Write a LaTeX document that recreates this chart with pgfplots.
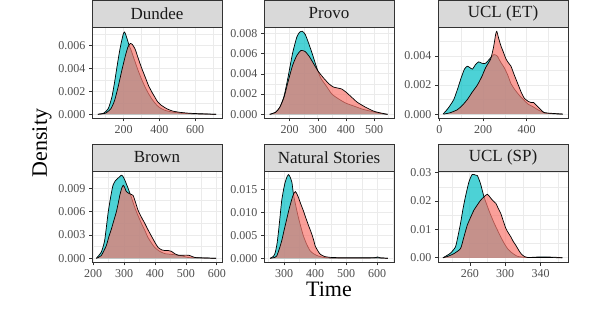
\documentclass[border=0pt]{standalone}
\usepackage{fontspec}
\setmainfont{Liberation Serif}
\usepackage{pgfplots}
\pgfplotsset{compat=1.18}

\definecolor{cyanc}{HTML}{00BFC4}
\definecolor{salmonc}{HTML}{F8766D}
\definecolor{gray20}{HTML}{333333}
\definecolor{gray30}{HTML}{4D4D4D}
\definecolor{gray85}{HTML}{D9D9D9}
\definecolor{gray92}{HTML}{EBEBEB}
\definecolor{gray10}{HTML}{1A1A1A}

\pgfplotsset{
  facet/.style={
    scale only axis, width=130pt, height=91.5pt,
    axis line style={draw=gray20, line width=0.6pt},
    grid=both,
    major grid style={draw=gray92, line width=0.75pt},
    minor grid style={draw=gray92, line width=0.4pt},
    tick align=outside, major tick length=3pt, minor tick length=0pt,
    major tick style={draw=gray20, line width=0.6pt},
    xtick pos=left, ytick pos=left,
    ticklabel style={font=\fontsize{12}{12}\selectfont, text=gray30},
    scaled ticks=false,
    every axis title shift=0pt,
    title style={at={(0.5,1)}, anchor=south, fill=gray85, draw=gray20,
      line width=0.6pt, minimum width=130pt, minimum height=27pt,
      inner sep=0pt, outer sep=0pt, font=\fontsize{17}{17}\selectfont, text=gray10},
  },
  cyanfill/.style={fill=cyanc, fill opacity=0.7, draw=black, line width=0.7pt, smooth, tension=0.35},
  salmonfill/.style={fill=salmonc, fill opacity=0.7, draw=black, line width=0.7pt, smooth, tension=0.35},
}

\begin{document}
\begin{tikzpicture}
\path[use as bounding box] (0pt,0pt) rectangle (602pt,332pt);

% Dundee
\begin{axis}[facet, at={(92pt,213.5pt)}, anchor=south west, title={Dundee},
  xmin=24, xmax=750, ymin=-0.00037, ymax=0.00764,
  xtick={200,400,600}, xticklabels={200,400,600}, minor xtick={100,300,500,700},
  ytick={0,0.002,0.004,0.006}, yticklabels={0.000,0.002,0.004,0.006},
  minor ytick={0.001,0.003,0.005,0.007}]
\addplot[cyanfill] coordinates {
(57,0) (90,0.0001) (115,0.0005) (135,0.0015) (150,0.0028) (165,0.0043) (180,0.0057)
(192,0.0066) (200,0.0071) (206,0.0072) (214,0.0069) (222,0.0065) (232,0.0060) (245,0.0055)
(260,0.0048) (280,0.0039) (300,0.0031) (320,0.0024) (340,0.0018) (360,0.0013) (380,0.0009)
(400,0.0006) (430,0.00035) (470,0.0002) (520,0.0001) (600,0.00004) (717,0)};
\addplot[salmonfill] coordinates {
(57,0) (100,0.0001) (130,0.0005) (150,0.0012) (170,0.0024) (190,0.0038) (210,0.0051)
(225,0.0059) (238,0.0062) (250,0.0061) (265,0.0057) (280,0.0050) (300,0.0041) (320,0.0033)
(340,0.0025) (360,0.0019) (375,0.0015) (390,0.0011) (410,0.0008) (440,0.0005) (470,0.0003)
(510,0.00018) (560,0.0001) (620,0.00005) (717,0)};
\end{axis}

% Provo
\begin{axis}[facet, at={(264pt,213.5pt)}, anchor=south west, title={Provo},
  xmin=108.6, xmax=571, ymin=-0.00041, ymax=0.00862,
  xtick={200,300,400,500}, xticklabels={200,300,400,500}, minor xtick={150,250,350,450,550},
  ytick={0,0.002,0.004,0.006,0.008}, yticklabels={0.000,0.002,0.004,0.006,0.008},
  minor ytick={0.001,0.003,0.005,0.007}]
\addplot[cyanfill] coordinates {
(129,0) (150,0.0002) (165,0.0007) (180,0.0018) (195,0.0038) (210,0.0060) (225,0.0076)
(235,0.0081) (245,0.0082) (255,0.0079) (265,0.0072) (280,0.0060) (295,0.0047) (310,0.0036)
(330,0.0028) (350,0.0020) (375,0.0015) (400,0.0011) (430,0.0008) (460,0.0005) (490,0.0003)
(520,0.0001) (548,0)};
\addplot[salmonfill] coordinates {
(129,0) (150,0.0002) (165,0.0007) (180,0.0017) (195,0.0033) (210,0.0048) (225,0.0058)
(240,0.0063) (255,0.0062) (270,0.0057) (285,0.0050) (300,0.0043) (320,0.0036) (340,0.0030)
(355,0.0027) (370,0.0026) (385,0.0025) (400,0.0022) (420,0.0017) (440,0.0012) (470,0.0007)
(500,0.0003) (530,0.0001) (548,0)};
\end{axis}

% UCL (ET)
\begin{axis}[facet, at={(438pt,213.5pt)}, anchor=south west, title={UCL (ET)},
  xmin=-6, xmax=589, ymin=-0.0003, ymax=0.006,
  xtick={0,200,400}, xticklabels={0,200,400}, minor xtick={100,300,500},
  ytick={0,0.002,0.004}, yticklabels={0.000,0.002,0.004},
  minor ytick={0.001,0.003,0.005}]
\addplot[cyanfill] coordinates {
(17,0) (40,0.0004) (66,0.001) (85,0.0018) (100,0.0025) (115,0.0031) (128,0.0033)
(140,0.0032) (152,0.0031) (165,0.0034) (180,0.0036) (195,0.0035) (212,0.0035) (230,0.0038)
(250,0.0041) (265,0.0040) (280,0.0036) (297,0.0032) (313,0.0027) (328,0.0021) (345,0.0017)
(366,0.0013) (385,0.0010) (405,0.0007) (430,0.0005) (451,0.0003) (480,0.0001) (520,0.00003) (566,0)};
\addplot[salmonfill] coordinates {
(20,0) (50,0.0001) (82,0.0003) (105,0.0006) (128,0.001) (150,0.0015) (174,0.0020)
(195,0.0026) (212,0.0032) (235,0.0038) (248,0.0046) (258,0.0055) (263,0.0057) (272,0.0052)
(282,0.0047) (295,0.0042) (305,0.0038) (318,0.0035) (328,0.0033) (343,0.0027) (359,0.0021)
(375,0.0015) (389,0.0011) (405,0.0009) (420,0.0008) (432,0.0008) (445,0.0006) (458,0.0004)
(481,0.0001) (520,0.00005) (566,0)};
\end{axis}

% Brown
\begin{axis}[facet, at={(92pt,69.5pt)}, anchor=south west, title={Brown},
  xmin=196, xmax=617, ymin=-0.00054, ymax=0.01124,
  xtick={200,300,400,500,600}, xticklabels={200,300,400,500,600}, minor xtick={250,350,450,550},
  ytick={0,0.003,0.006,0.009}, yticklabels={0.000,0.003,0.006,0.009},
  minor ytick={0.0015,0.0045,0.0075,0.0105}]
\addplot[cyanfill] coordinates {
(210,0) (226,0.0008) (237,0.0023) (248,0.0058) (256,0.0078) (264,0.0094) (272,0.0100)
(280,0.0103) (291,0.0107) (297,0.0105) (302,0.0101) (313,0.0090) (324,0.0078) (334,0.0066)
(345,0.0055) (356,0.0045) (367,0.0036) (377,0.0027) (388,0.0020) (399,0.0014) (415,0.0009)
(432,0.0006) (455,0.0005) (475,0.0004) (490,0.0003) (507,0.0001) (550,0.00005) (598,0)};
\addplot[salmonfill] coordinates {
(210,0) (226,0.00035) (242,0.0016) (250,0.0027) (259,0.0038) (267,0.0049) (275,0.0060)
(281,0.0071) (286,0.0081) (292,0.0090) (297,0.0094) (302,0.0091) (307,0.0086) (318,0.0083)
(329,0.0081) (337,0.0072) (345,0.0062) (356,0.0053) (367,0.0045) (377,0.0037) (388,0.0029)
(399,0.0021) (410,0.0014) (421,0.0011) (432,0.0010) (443,0.0010) (453,0.0009) (464,0.0006)
(475,0.0004) (490,0.0004) (509,0.0004) (530,0.0001) (560,0.00005) (598,0)};
\end{axis}

% Natural Stories
\begin{axis}[facet, at={(264pt,69.5pt)}, anchor=south west, title={Natural Stories},
  xmin=235, xmax=654, ymin=-0.00092, ymax=0.0191,
  xtick={300,400,500,600}, xticklabels={300,400,500,600}, minor xtick={250,350,450,550,650},
  ytick={0,0.005,0.01,0.015}, yticklabels={0.000,0.005,0.010,0.015},
  minor ytick={0.0025,0.0075,0.0125,0.0175},
  xlabel={Time}, xlabel style={font=\fontsize{22}{22}\selectfont, text=black, yshift=2pt}]
\addplot[cyanfill] coordinates {
(255,0) (265,0.0004) (271,0.0012) (277,0.0032) (282,0.006) (287,0.0093) (292,0.0126)
(298,0.0150) (303,0.0166) (309,0.0178) (314,0.0183) (319,0.0178) (325,0.0166) (330,0.0140)
(338,0.0113) (346,0.0089) (354,0.0068) (362,0.0049) (373,0.0030) (384,0.0016) (395,0.0010)
(406,0.0006) (420,0.0003) (438,0.0001) (500,0.00005) (590,0.0001) (600,0.0003) (610,0.0001) (634,0)};
\addplot[salmonfill] coordinates {
(255,0) (270,0.0002) (276,0.0005) (284,0.0020) (292,0.0038) (300,0.0062) (308,0.0085)
(316,0.0108) (325,0.0130) (330,0.0140) (336,0.0146) (341,0.0141) (346,0.0133) (354,0.0118)
(362,0.0104) (370,0.0088) (379,0.0071) (389,0.0053) (395,0.0040) (400,0.0027) (408,0.0017)
(416,0.0009) (430,0.0004) (449,0.0002) (500,0.0001) (600,0.0001) (634,0)};
\end{axis}

% UCL (SP)
\begin{axis}[facet, at={(438pt,69.5pt)}, anchor=south west, title={UCL (SP)},
  xmin=224, xmax=371, ymin=-0.00167, ymax=0.0306,
  xtick={260,300,340}, xticklabels={260,300,340}, minor xtick={240,280,320,360},
  ytick={0,0.01,0.02,0.03}, yticklabels={0.00,0.01,0.02,0.03},
  minor ytick={0.005,0.015,0.025}]
\addplot[cyanfill] coordinates {
(229.6,0) (238,0.0016) (243.7,0.0038) (246.5,0.0075) (249.4,0.012) (252,0.0168) (255,0.0215)
(259,0.0268) (262.7,0.0294) (266,0.0292) (268.5,0.029) (272,0.0262) (276,0.0215) (280,0.0180)
(283.7,0.015) (287.5,0.0122) (291.3,0.0097) (295,0.0073) (299,0.005) (302.5,0.0033)
(306.5,0.002) (314,0.0005) (325.6,0.0001) (340,0.0003) (355,0.0002) (364.6,0)};
\addplot[salmonfill] coordinates {
(229.6,0) (235,0.0005) (241.7,0.0014) (249.4,0.0032) (253,0.0070) (257,0.0114) (260.8,0.0142)
(264.6,0.0168) (268.4,0.0186) (272.2,0.0203) (276,0.0215) (279.9,0.0224) (283.7,0.0210)
(286.5,0.0200) (289.4,0.0192) (292,0.0175) (295,0.0156) (298,0.0128) (300.8,0.0103)
(303.5,0.0088) (306.5,0.0073) (309,0.0058) (312,0.0044) (315,0.0028) (318,0.0014)
(321,0.0006) (325.6,0.0001) (345,0.0001) (364.6,0)};
\end{axis}

\node[rotate=90, font=\fontsize{22}{22}\selectfont] at (42pt,189pt) {Density};
\end{tikzpicture}
\end{document}
